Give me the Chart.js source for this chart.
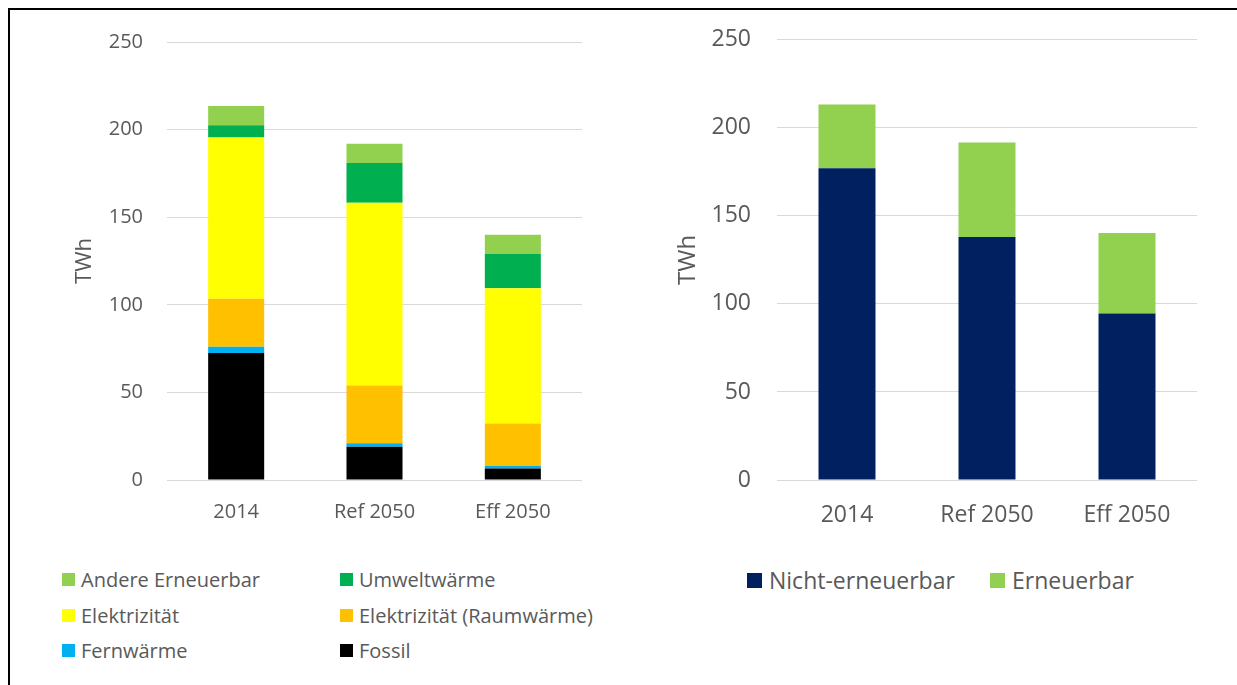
<!DOCTYPE html>
<html>
<head>
<meta charset="utf-8">
<script src="https://cdn.jsdelivr.net/npm/chart.js@4"></script>
<style>
  body { margin: 0; background: #fff; font-family: "Open Sans", sans-serif; color: #595959; }
  #wrap { position: relative; width: 1237px; height: 685px; overflow: hidden; }
  #frame { position: absolute; left: 8px; top: 8px; width: 1300px; height: 700px;
           border-top: 2px solid #000; border-left: 2px solid #000; }
  #c1 { position: absolute; left: 0; top: 0; }
  #c2 { position: absolute; left: 600px; top: 0; }
  .legend { position: absolute; display: grid; }
  .item { display: flex; align-items: center; white-space: nowrap; }
  .box { display: inline-block; flex: none; }
  #leg1 { left: 62px; top: 562px; grid-template-columns: 278px 300px; grid-auto-rows: 35.5px; font-size: 20px; }
  #leg1 .box { width: 13px; height: 13px; margin-right: 6px; }
  #leg2 { left: 747px; top: 562px; grid-template-columns: 243px 200px; grid-auto-rows: 36px; font-size: 23px; }
  #leg2 .box { width: 15px; height: 15px; margin-right: 7px; }
</style>
</head>
<body>
<div id="wrap">
  <div id="frame"></div>
  <canvas id="c1" width="600" height="540"></canvas>
  <canvas id="c2" width="637" height="545"></canvas>
  <div class="legend" id="leg1"></div>
  <div class="legend" id="leg2"></div>
</div>
<script>
const categories = ['2014', 'Ref 2050', 'Eff 2050'];

// left chart, bottom to top
const fossil = [72.5, 19, 6.5];
const fernwaerme = [3.5, 2, 1.7];
const elekRaum = [27.5, 33, 24];
const elektrizitaet = [92, 104.3, 77.3];
const umweltwaerme = [7, 22.6, 19.5];
const andereErneuerbar = [11, 11, 11];

// right chart
const nichtErneuerbar = [177, 138, 94.5];
const erneuerbar = [36.2, 53.7, 45.8];

const yTicks = [0, 50, 100, 150, 200, 250];

const grey = '#595959';
const gridGrey = '#d9d9d9';

const leftSets = [
    { label: 'Fossil', data: fossil, backgroundColor: '#000000' },
    { label: 'Fernwärme', data: fernwaerme, backgroundColor: '#00b0f0' },
    { label: 'Elektrizität (Raumwärme)', data: elekRaum, backgroundColor: '#ffc000' },
    { label: 'Elektrizität', data: elektrizitaet, backgroundColor: '#ffff00' },
    { label: 'Umweltwärme', data: umweltwaerme, backgroundColor: '#00b050' },
    { label: 'Andere Erneuerbar', data: andereErneuerbar, backgroundColor: '#92d050' }
];
const rightSets = [
    { label: 'Nicht-erneuerbar', data: nichtErneuerbar, backgroundColor: '#002060' },
    { label: 'Erneuerbar', data: erneuerbar, backgroundColor: '#92d050' }
];

function makeChart(canvas, sets, o) {
    return new Chart(canvas, {
        type: 'bar',
        data: {
            labels: categories,
            datasets: sets.map(s => Object.assign({
                categoryPercentage: 1,
                barPercentage: o.barPct,
                borderWidth: 0
            }, s))
        },
        options: {
            responsive: false,
            animation: false,
            layout: { padding: o.padding },
            plugins: { legend: { display: false }, tooltip: { enabled: false } },
            scales: {
                x: {
                    stacked: true,
                    grid: { display: false },
                    border: { display: false },
                    ticks: { color: grey, font: { family: 'Open Sans', size: o.xFont }, padding: o.xPad },
                    afterFit: s => { s.height = o.xHeight; }
                },
                y: {
                    stacked: true,
                    min: 0,
                    max: 250,
                    afterBuildTicks: s => { s.ticks = yTicks.map(v => ({ value: v })); },
                    grid: { color: gridGrey, lineWidth: 1, drawTicks: false },
                    border: { display: false },
                    ticks: { color: grey, font: { family: 'Open Sans', size: o.yFont }, padding: o.yPad },
                    title: {
                        display: true, text: 'TWh', color: grey,
                        font: { family: 'Open Sans', size: o.tFont },
                        padding: { top: o.tPad, bottom: 0 }
                    },
                    afterFit: s => { s.width = o.yWidth; }
                }
            }
        }
    });
}

makeChart(document.getElementById('c1'), leftSets, {
    barPct: 0.405, padding: { top: 42, right: 18, left: 0, bottom: 0 },
    xFont: 20, xPad: 12, xHeight: 60, yFont: 20, yPad: 24, tFont: 22, tPad: 72, yWidth: 167
});
makeChart(document.getElementById('c2'), rightSets, {
    barPct: 0.407, padding: { top: 38, right: 40, left: 0, bottom: 0 },
    xFont: 23, xPad: 14, xHeight: 65, yFont: 23, yPad: 26, tFont: 24, tPad: 74, yWidth: 177
});

function buildLegend(el, items) {
    items.forEach(s => {
        const d = document.createElement('div');
        d.className = 'item';
        const b = document.createElement('span');
        b.className = 'box';
        b.style.background = s.backgroundColor;
        d.appendChild(b);
        d.appendChild(document.createTextNode(s.label));
        el.appendChild(d);
    });
}
buildLegend(document.getElementById('leg1'), leftSets.slice().reverse());
buildLegend(document.getElementById('leg2'), rightSets);
</script>
</body>
</html>
